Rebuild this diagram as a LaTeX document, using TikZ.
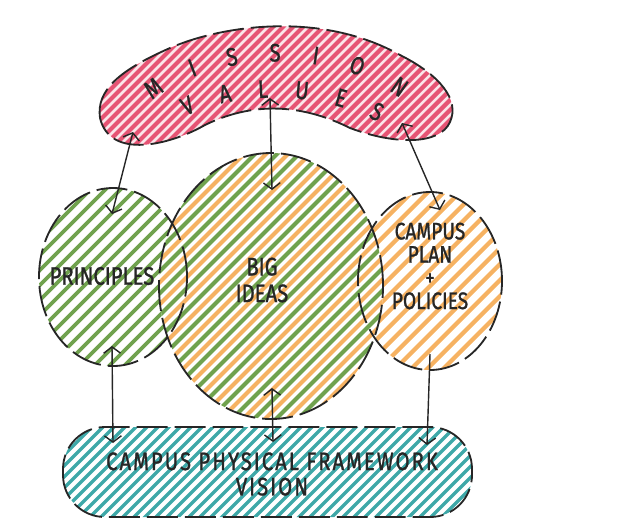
\documentclass[tikz,border=0pt]{standalone}
\usepackage{fontspec}
\newfontfamily\handfont[FakeStretch=0.8,FakeBold=1]{Fira Sans}
\newfontfamily\widehand[FakeStretch=0.8,FakeBold=1,LetterSpace=8]{Fira Sans}
\usetikzlibrary{arrows.meta,decorations.text}

\definecolor{missionpink}{RGB}{230,84,116}
\definecolor{leafgreen}{RGB}{112,162,78}
\definecolor{marigold}{RGB}{246,178,98}
\definecolor{framework}{RGB}{62,168,168}
\definecolor{ink}{RGB}{38,38,38}

\tikzset{
  outline/.style={draw=ink, line width=1.3pt, dash pattern=on 22pt off 5pt},
  link/.style={draw=ink, line width=1pt, {Straight Barb[length=4.5pt,width=12pt]}-{Straight Barb[length=4.5pt,width=12pt]}},
  tag/.style={font=\handfont\fontsize{18}{19}\selectfont, text=ink, inner sep=1pt, align=center},
}

% diagonal marker strokes; used inside a clipped scope
\newcommand{\hatchlines}[4]{%
  \foreach \s in {#2,#3,...,680}
    \draw[#1, line width=#4] (\s,-560) -- ++(580,580);}

\begin{document}
\begin{tikzpicture}[x=0.025cm,y=0.025cm]
\useasboundingbox (0,0) rectangle (628,-529);

% hatching
\begin{scope}
  \clip (100,-118) .. controls (96,-90) and (120,-70) .. (170,-48)
    .. controls (220,-26) and (320,-10) .. (400,-55)
    .. controls (440,-75) and (460,-100) .. (450,-122)
    .. controls (440,-145) and (395,-145) .. (350,-128)
    .. controls (310,-108) and (260,-98) .. (205,-125)
    .. controls (170,-145) and (110,-160) .. (100,-118) -- cycle;
  \fill[missionpink!15] (0,0) rectangle (628,-200);
  \hatchlines{missionpink}{-580}{-570}{3pt}
\end{scope}
\begin{scope}
  \clip (113,-277) ellipse (74 and 89);
  \hatchlines{leafgreen}{-580}{-565}{2.6pt}
\end{scope}
\begin{scope}
  \clip (430,-281) ellipse (72 and 89);
  \hatchlines{marigold}{-580}{-564}{3pt}
\end{scope}
\begin{scope}
  \clip (271,-286) ellipse (112 and 133);
  \fill[white] (0,0) rectangle (628,-529);
  \hatchlines{marigold}{-580}{-558}{2.8pt}
  \hatchlines{leafgreen}{-569}{-547}{2.8pt}
\end{scope}
\begin{scope}
  \clip[rounded corners=1.05cm] (63,-427) rectangle (472,-517);
  \hatchlines{framework}{-580}{-569}{2.3pt}
\end{scope}

% outlines
\draw[outline] (100,-118) .. controls (96,-90) and (120,-70) .. (170,-48)
  .. controls (220,-26) and (320,-10) .. (400,-55)
  .. controls (440,-75) and (460,-100) .. (450,-122)
  .. controls (440,-145) and (395,-145) .. (350,-128)
  .. controls (310,-108) and (260,-98) .. (205,-125)
  .. controls (170,-145) and (110,-160) .. (100,-118) -- cycle;
\draw[outline] (113,-277) ellipse (74 and 89);
\draw[outline] (430,-281) ellipse (72 and 89);
\draw[outline] (271,-286) ellipse (112 and 133);
\draw[outline, rounded corners=1.05cm] (63,-427) rectangle (472,-517);

% labels
\path[decorate, decoration={text along path, text color=ink,
  text={|\handfont\fontsize{18}{19}\selectfont|MISSION}, text align={fit to path}}]
  (152,-100) .. controls (215,-50) and (335,-48) .. (400,-98);
\path[decorate, decoration={text along path, text color=ink,
  text={|\handfont\fontsize{18}{19}\selectfont|VALUES}, text align={fit to path}}]
  (186,-116) .. controls (230,-93) and (315,-88) .. (378,-122);
\node[tag] (principles) at (102,-276) {PRINCIPLES};
\node[tag] (bigideas) at (262,-280) {BIG\\IDEAS};
\node[tag, font=\handfont\fontsize{17}{16.5}\selectfont] (campusplan) at (430,-266) {CAMPUS\\PLAN\\+\\POLICIES};
\node[tag, font=\widehand\fontsize{18}{18}\selectfont] (vision) at (272,-474) {CAMPUS PHYSICAL FRAMEWORK\\VISION};

% arrow ends
\coordinate (mission-p) at (133,-132);
\coordinate (mission-b) at (270,-98);
\coordinate (mission-c) at (402,-123);
\coordinate (principles-top) at (112,-214);
\coordinate (bigideas-top) at (272,-190);
\coordinate (campusplan-top) at (440,-210);
\coordinate (principles-bot) at (112,-346);
\coordinate (bigideas-bot) at (272,-388);
\coordinate (campusplan-bot) at (430,-354);
\coordinate (vision-p) at (113,-443);
\coordinate (vision-b) at (273,-442);
\coordinate (vision-c) at (427,-445);

\draw[link] (mission-p) -- (principles-top);
\draw[link] (mission-b) -- (bigideas-top);
\draw[link] (mission-c) -- (campusplan-top);
\draw[link] (principles-bot) -- (vision-p);
\draw[link] (bigideas-bot) -- (vision-b);
\draw[link, -{Straight Barb[length=4.5pt,width=12pt]}] (campusplan-bot) -- (vision-c);
\end{tikzpicture}
\end{document}
